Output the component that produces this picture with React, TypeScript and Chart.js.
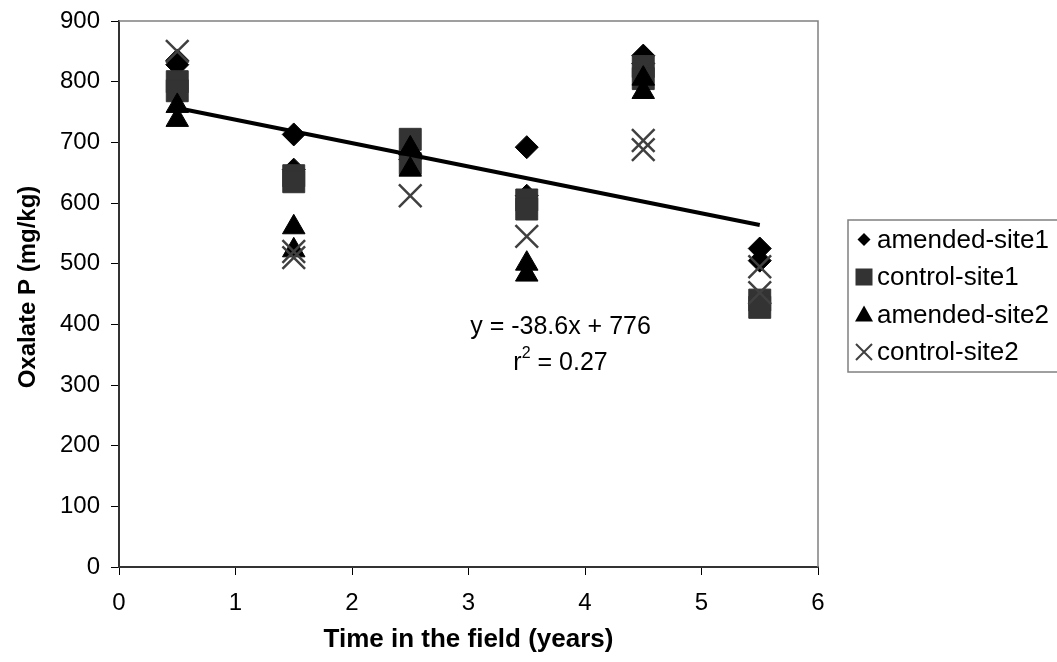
import React, { useEffect, useRef } from 'react';
import { Chart, registerables } from 'chart.js';

Chart.register(...registerables);

const xTickValues = [0, 1, 2, 3, 4, 5, 6];
const yTickValues = [0, 100, 200, 300, 400, 500, 600, 700, 800, 900];

const amended1X = [0.5, 0.5, 1.5, 1.5, 2.5, 2.5, 3.5, 3.5, 4.5, 4.5, 5.5, 5.5];
const amended1Y = [835, 828, 713, 655, 680, 672, 692, 612, 843, 830, 525, 505];
const control1X = [0.5, 0.5, 1.5, 1.5, 2.5, 2.5, 3.5, 3.5, 4.5, 4.5, 5.5, 5.5];
const control1Y = [800, 785, 645, 635, 705, 665, 605, 590, 825, 805, 440, 428];
const amended2X = [0.5, 0.5, 1.5, 1.5, 2.5, 2.5, 3.5, 3.5, 4.5, 4.5];
const amended2Y = [760, 737, 560, 522, 690, 655, 500, 482, 805, 783];
const control2X = [0.5, 1.5, 1.5, 2.5, 3.5, 4.5, 4.5, 5.5, 5.5];
const control2Y = [850, 520, 510, 612, 545, 703, 688, 495, 452];
const trendX = [0.5, 5.5];
const trendY = [756.7, 563.7];

const seriesNames = ['amended-site1', 'control-site1', 'amended-site2', 'control-site2'];
const equationText = 'y = -38.6x + 776';
const r2Value = '0.27';
const xTitle = 'Time in the field (years)';
const yTitle = 'Oxalate P (mg/kg)';

const FONT = '"Liberation Sans", Arial, sans-serif';

const toPts = (xs: number[], ys: number[]) => xs.map((x, i) => ({ x, y: ys[i] }));

function drawMarker(ctx: CanvasRenderingContext2D, kind: number, x: number, y: number) {
  ctx.save();
  if (kind === 0) {
    const s = 6.5;
    ctx.fillStyle = '#000';
    ctx.beginPath();
    ctx.moveTo(x, y - s);
    ctx.lineTo(x + s, y);
    ctx.lineTo(x, y + s);
    ctx.lineTo(x - s, y);
    ctx.closePath();
    ctx.fill();
  } else if (kind === 1) {
    const s = 8.5;
    ctx.fillStyle = '#333333';
    ctx.fillRect(x - s, y - s, 2 * s, 2 * s);
  } else if (kind === 2) {
    ctx.fillStyle = '#000';
    ctx.beginPath();
    ctx.moveTo(x, y - 9);
    ctx.lineTo(x + 9, y + 7);
    ctx.lineTo(x - 9, y + 7);
    ctx.closePath();
    ctx.fill();
  } else {
    const s = 8;
    ctx.strokeStyle = '#404040';
    ctx.lineWidth = 2;
    ctx.beginPath();
    ctx.moveTo(x - s, y - s);
    ctx.lineTo(x + s, y + s);
    ctx.moveTo(x + s, y - s);
    ctx.lineTo(x - s, y + s);
    ctx.stroke();
  }
  ctx.restore();
}

const decorPlugin = {
  id: 'decor',
  afterDraw(chart: any) {
    const ctx: CanvasRenderingContext2D = chart.ctx;
    const a = chart.chartArea;
    const xs = chart.scales.x;
    const ys = chart.scales.y;
    ctx.save();
    // plot frame top/right
    ctx.strokeStyle = '#808080';
    ctx.lineWidth = 1.5;
    ctx.beginPath();
    ctx.moveTo(a.left, a.top);
    ctx.lineTo(a.right, a.top);
    ctx.lineTo(a.right, a.bottom);
    ctx.stroke();

    // axis titles
    ctx.fillStyle = '#000';
    ctx.textAlign = 'center';
    ctx.textBaseline = 'middle';
    ctx.font = `bold 26px ${FONT}`;
    ctx.fillText(xTitle, (a.left + a.right) / 2, 640);
    ctx.save();
    ctx.font = `bold 24px ${FONT}`;
    ctx.translate(28, 287);
    ctx.rotate(-Math.PI / 2);
    ctx.fillText(yTitle, 0, 0);
    ctx.restore();

    // equation
    ctx.font = `25px ${FONT}`;
    const ex = xs.getPixelForValue(3.79);
    ctx.fillText(equationText, ex, ys.getPixelForValue(396));
    const ry = ys.getPixelForValue(336);
    const p1 = 'r';
    const p3 = ' = ' + r2Value;
    const w1 = ctx.measureText(p1).width;
    const w3 = ctx.measureText(p3).width;
    ctx.font = `16px ${FONT}`;
    const w2 = ctx.measureText('2').width;
    const total = w1 + w2 + w3;
    let cx = ex - total / 2;
    ctx.textAlign = 'left';
    ctx.font = `25px ${FONT}`;
    ctx.fillText(p1, cx, ry);
    cx += w1;
    ctx.font = `16px ${FONT}`;
    ctx.fillText('2', cx, ry - 10);
    cx += w2;
    ctx.font = `25px ${FONT}`;
    ctx.fillText(p3, cx, ry);

    // legend
    const lx = 848, ly = 220, lw = 230, lh = 152;
    ctx.strokeStyle = '#808080';
    ctx.lineWidth = 1.5;
    ctx.strokeRect(lx, ly, lw, lh);
    const rows = [239.5, 277, 314.5, 352];
    seriesNames.forEach((name, i) => {
      const my = rows[i];
      drawMarker(ctx, i, 864, my);
      ctx.fillStyle = '#000';
      ctx.font = `26px ${FONT}`;
      ctx.textAlign = 'left';
      ctx.textBaseline = 'middle';
      ctx.fillText(name, 877, my + 1);
    });
    ctx.restore();
  },
};

export default function App() {
  const ref = useRef<HTMLCanvasElement>(null);
  useEffect(() => {
    if (!ref.current) return;
    Chart.defaults.font.family = FONT;
    const chart = new Chart(ref.current, {
      type: 'scatter',
      data: {
        datasets: [
          {
            label: 'trend',
            data: toPts(trendX, trendY),
            showLine: true,
            borderColor: '#000',
            borderWidth: 4,
            pointRadius: 0,
            order: 0,
          } as any,
          {
            label: seriesNames[3],
            data: toPts(control2X, control2Y),
            pointStyle: 'crossRot',
            pointRadius: 16,
            borderColor: '#404040',
            borderWidth: 2.5,
            order: 1,
          },
          {
            label: seriesNames[2],
            data: toPts(amended2X, amended2Y),
            pointStyle: 'triangle',
            pointRadius: 13,
            backgroundColor: '#000',
            borderColor: '#000',
            borderWidth: 1,
            order: 2,
          },
          {
            label: seriesNames[1],
            data: toPts(control1X, control1Y),
            pointStyle: 'rect',
            pointRadius: 15.5,
            backgroundColor: '#333333',
            borderColor: '#333333',
            borderWidth: 1,
            order: 3,
          },
          {
            label: seriesNames[0],
            data: toPts(amended1X, amended1Y),
            pointStyle: 'rectRot',
            pointRadius: 11.5,
            backgroundColor: '#000',
            borderColor: '#000',
            borderWidth: 1,
            order: 4,
          },
        ],
      },
      options: {
        animation: false,
        responsive: false,
        maintainAspectRatio: false,
        layout: { padding: { top: 21, right: 239, left: 0, bottom: 0 } },
        plugins: { legend: { display: false }, tooltip: { enabled: false } },
        scales: {
          x: {
            type: 'linear',
            min: 0,
            max: 6,
            afterFit: (s: any) => { s.height = 95; s.paddingLeft = 0; s.paddingRight = 0; },
            afterBuildTicks: (s: any) => { s.ticks = xTickValues.map((v) => ({ value: v })); },
            ticks: { color: '#000', font: { size: 24 }, padding: 14 },
            grid: { drawOnChartArea: false, drawTicks: true, tickLength: 8, color: '#000' },
            border: { color: '#333', width: 2 },
          },
          y: {
            type: 'linear',
            min: 0,
            max: 900,
            afterFit: (s: any) => { s.width = 119; s.paddingTop = 0; s.paddingBottom = 0; },
            afterBuildTicks: (s: any) => { s.ticks = yTickValues.map((v) => ({ value: v })); },
            ticks: { color: '#000', font: { size: 24 }, padding: 11 },
            grid: { drawOnChartArea: false, drawTicks: true, tickLength: 8, color: '#000' },
            border: { color: '#333', width: 2 },
          },
        },
      },
      plugins: [decorPlugin],
    });
    return () => chart.destroy();
  }, []);
  return (
    <div style={{ position: 'fixed', left: 0, top: 0, width: 1057, height: 662, background: '#fff' }}>
      <canvas ref={ref} width={1057} height={662} style={{ width: 1057, height: 662 }} />
    </div>
  );
}
